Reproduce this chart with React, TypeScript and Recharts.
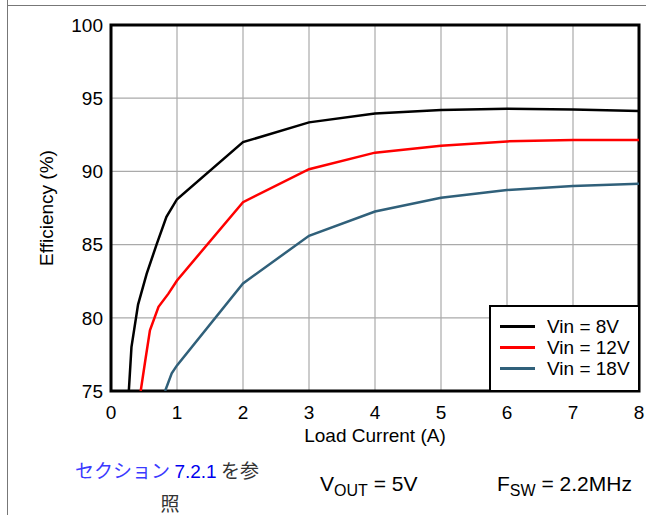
import React from "react";
import {
  LineChart,
  Line,
  XAxis,
  YAxis,
  CartesianGrid,
  Legend,
  ReferenceArea,
} from "recharts";

const FONT = '"Liberation Sans", Arial, sans-serif';
const JP_FONT = '"Noto Sans CJK JP", "Liberation Sans", sans-serif';

// load current (A) / efficiency (%)
const load8 = [0.27, 0.31, 0.41, 0.54, 0.69, 0.84, 1.0, 2, 3, 4, 5, 6, 7, 8];
const eff8 = [75, 78.0, 80.9, 83.0, 85.0, 86.9, 88.1, 92.0, 93.35, 93.95, 94.2, 94.28, 94.23, 94.12];

const load12 = [0.45, 0.52, 0.59, 0.72, 0.87, 1.0, 2, 3, 4, 5, 6, 7, 8];
const eff12 = [75, 77.1, 79.15, 80.75, 81.65, 82.55, 87.9, 90.15, 91.28, 91.76, 92.05, 92.14, 92.15];

const load18 = [0.82, 0.92, 1.0, 2, 3, 4, 5, 6, 7, 8];
const eff18 = [75, 76.2, 76.75, 82.35, 85.6, 87.26, 88.2, 88.73, 89.0, 89.15];

const xTicks = [0, 1, 2, 3, 4, 5, 6, 7, 8];
const yTicks = [75, 80, 85, 90, 95, 100];

const toPoints = (xs: number[], ys: number[]) =>
  xs.map((x, i) => ({ x, y: ys[i] }));

const SERIES = [
  { name: "Vin = 8V", color: "#000000", data: toPoints(load8, eff8) },
  { name: "Vin = 12V", color: "#ff0000", data: toPoints(load12, eff12) },
  { name: "Vin = 18V", color: "#30607a", data: toPoints(load18, eff18) },
];

const tickStyle = { fill: "#000", fontSize: 19, fontFamily: FONT };
const labelStyle = { fill: "#000", fontSize: 19, fontFamily: FONT };

function LegendBox() {
  return (
    <div
      style={{
        boxSizing: "border-box",
        width: 151,
        height: 87,
        border: "2px solid #000",
        background: "#fff",
        paddingTop: 9,
        fontFamily: FONT,
        fontSize: 19,
        color: "#000",
      }}
    >
      {SERIES.map((s) => (
        <div
          key={s.name}
          style={{ display: "flex", alignItems: "center", height: 21 }}
        >
          <div
            style={{
              width: 35,
              height: 3,
              background: s.color,
              marginLeft: 9,
              marginRight: 12,
            }}
          />
          <span style={{ lineHeight: "21px" }}>{s.name}</span>
        </div>
      ))}
    </div>
  );
}

export default function App() {
  return (
    <div
      style={{
        position: "absolute",
        left: 0,
        top: 0,
        width: 646,
        height: 515,
        background: "#fff",
        fontFamily: FONT,
      }}
    >
      <div style={{ position: "absolute", left: 7, top: 0, width: 1, height: 515, background: "#777" }} />
      <div style={{ position: "absolute", left: 7, top: 5, width: 639, height: 1, background: "#777" }} />

      <div style={{ position: "absolute", left: 0, top: 0 }}>
        <LineChart
          width={646}
          height={460}
          margin={{ top: 25, right: 7, left: 0, bottom: 0 }}
        >
          <CartesianGrid stroke="#aaaaaa" strokeWidth={1.2} />
          <XAxis
            type="number"
            dataKey="x"
            domain={[0, 8]}
            ticks={xTicks}
            height={69}
            tickSize={0}
            tickMargin={15}
            axisLine={false}
            fontSize={19}
            tick={{ ...tickStyle, style: tickStyle }}
            label={{
              value: "Load Current (A)",
              position: "insideBottom",
              offset: 18,
              ...labelStyle,
              style: labelStyle,
            }}
          />
          <YAxis
            type="number"
            dataKey="y"
            domain={[75, 100]}
            ticks={yTicks}
            width={111}
            tickSize={0}
            tickMargin={8}
            axisLine={false}
            allowDataOverflow
            fontSize={19}
            tick={{ ...tickStyle, style: tickStyle }}
            label={{
              value: "Efficiency (%)",
              angle: -90,
              position: "insideLeft",
              offset: 46,
              ...labelStyle,
              style: { ...labelStyle, textAnchor: "middle" },
            }}
          />
          <ReferenceArea
            x1={0}
            x2={8}
            y1={75}
            y2={100}
            fill="none"
            stroke="#000"
            strokeWidth={3}
          />
          {SERIES.map((s) => (
            <Line
              key={s.name}
              data={s.data}
              dataKey="y"
              name={s.name}
              type="linear"
              stroke={s.color}
              strokeWidth={2.5}
              dot={false}
              isAnimationActive={false}
            />
          ))}
          <Legend
            layout="vertical"
            align="center"
            verticalAlign="middle"
            wrapperStyle={{ left: 489, top: 305, width: 151, height: 87 }}
            content={() => <LegendBox />}
          />
        </LineChart>
      </div>

      <div
        style={{
          position: "absolute",
          left: 57,
          top: 454,
          width: 220,
          textAlign: "center",
          fontFamily: JP_FONT,
          fontSize: 19,
          lineHeight: "31px",
          color: "#333",
        }}
      >
        <span style={{ color: "#3a3aff" }}>セクション</span>{" "}
        <span style={{ color: "#0000ee", fontFamily: FONT }}>7.2.1</span> を参
        <br />
        <span style={{ marginLeft: 6 }}>照</span>
      </div>
      <div
        style={{
          position: "absolute",
          left: 320,
          top: 472,
          fontSize: 21,
          color: "#000",
          whiteSpace: "nowrap",
        }}
      >
        V<sub style={{ fontSize: 16 }}>OUT</sub> = 5V
      </div>
      <div
        style={{
          position: "absolute",
          left: 497,
          top: 472,
          fontSize: 21,
          color: "#000",
          whiteSpace: "nowrap",
        }}
      >
        F<sub style={{ fontSize: 16 }}>SW</sub> = 2.2MHz
      </div>
    </div>
  );
}
